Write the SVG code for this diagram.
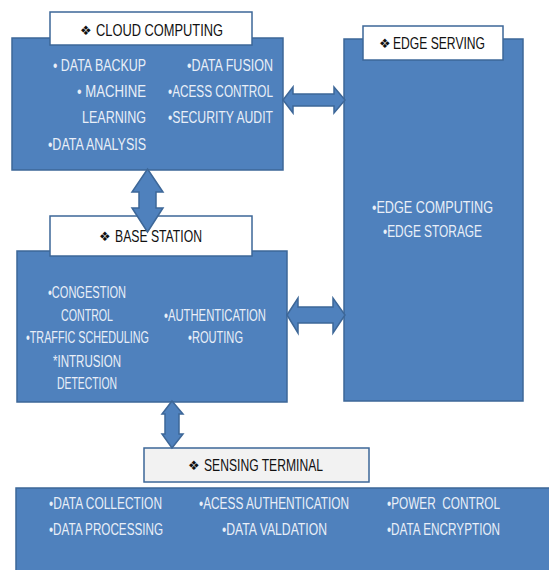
<svg xmlns="http://www.w3.org/2000/svg" width="549" height="570" viewBox="0 0 549 570">
<style>
.box{fill:#4f81bd;stroke:#3d6798;stroke-width:1.5}
.hdr{fill:#ffffff;stroke:#3d6798;stroke-width:1.5}
.hdr2{fill:#f2f2f2;stroke:#3d6798;stroke-width:1.5}
.arr{fill:#4f81bd;stroke:#3d6798;stroke-width:1.5;stroke-linejoin:miter}
.t{font-family:"Liberation Sans Narrow","Liberation Sans",Arial,sans-serif;font-size:16px;fill:#e9eff8;white-space:pre}
.h{font-family:"Liberation Sans Narrow","Liberation Sans",Arial,sans-serif;font-size:17px;fill:#111111}
.d{font-family:"DejaVu Sans",sans-serif;font-size:13px;fill:#111111}
</style>
<rect width="549" height="570" fill="#ffffff"/>
<g id="cloud">
<rect class="box" x="12" y="38" width="271" height="132"/>
<rect class="hdr" x="50" y="12" width="202" height="33"/>
<text y="36"><tspan class="d" x="80" y="35">❖</tspan><tspan class="h" x="96" y="36" textLength="127" lengthAdjust="spacingAndGlyphs">CLOUD COMPUTING</tspan></text>
<text class="t" x="53" y="71" textLength="93" lengthAdjust="spacingAndGlyphs">• DATA BACKUP</text>
<text class="t" x="77" y="97" textLength="69" lengthAdjust="spacingAndGlyphs">• MACHINE</text>
<text class="t" x="82" y="123" textLength="64" lengthAdjust="spacingAndGlyphs">LEARNING</text>
<text class="t" x="48" y="150" textLength="98" lengthAdjust="spacingAndGlyphs">•DATA ANALYSIS</text>
<text class="t" x="187" y="71" textLength="86" lengthAdjust="spacingAndGlyphs">•DATA FUSION</text>
<text class="t" x="168" y="97" textLength="105" lengthAdjust="spacingAndGlyphs">•ACESS CONTROL</text>
<text class="t" x="168" y="123" textLength="105" lengthAdjust="spacingAndGlyphs">•SECURITY AUDIT</text>
</g>
<g id="edge">
<rect class="box" x="344" y="39" width="179" height="362"/>
<rect class="hdr" x="363" y="26" width="140" height="34"/>
<text y="49"><tspan class="d" x="379" y="48">❖</tspan><tspan class="h" x="393" y="49" textLength="92" lengthAdjust="spacingAndGlyphs">EDGE SERVING</tspan></text>
<text class="t" x="372" y="213" textLength="121" lengthAdjust="spacingAndGlyphs">•EDGE COMPUTING</text>
<text class="t" x="383" y="237" textLength="99" lengthAdjust="spacingAndGlyphs">•EDGE STORAGE</text>
</g>
<g id="base">
<rect class="box" x="17" y="251" width="270" height="151"/>
<rect class="hdr" x="50" y="216" width="202" height="40"/>
<text y="242"><tspan class="d" x="99" y="241">❖</tspan><tspan class="h" x="115" y="242" textLength="87" lengthAdjust="spacingAndGlyphs">BASE STATION</tspan></text>
<text class="t" x="48" y="298" textLength="78" lengthAdjust="spacingAndGlyphs">•CONGESTION</text>
<text class="t" x="61" y="321" textLength="52" lengthAdjust="spacingAndGlyphs">CONTROL</text>
<text class="t" x="26" y="343" textLength="123" lengthAdjust="spacingAndGlyphs">•TRAFFIC SCHEDULING</text>
<text class="t" x="53" y="367" textLength="68" lengthAdjust="spacingAndGlyphs">*INTRUSION</text>
<text class="t" x="57" y="389" textLength="60" lengthAdjust="spacingAndGlyphs">DETECTION</text>
<text class="t" x="164" y="321" textLength="102" lengthAdjust="spacingAndGlyphs">•AUTHENTICATION</text>
<text class="t" x="188" y="343" textLength="55" lengthAdjust="spacingAndGlyphs">•ROUTING</text>
</g>
<g id="sensing">
<rect class="box" x="16" y="488" width="540" height="90"/>
<rect class="hdr2" x="144" y="448" width="225" height="34"/>
<text y="471"><tspan class="d" x="188" y="470">❖</tspan><tspan class="h" x="204" y="471" textLength="119" lengthAdjust="spacingAndGlyphs">SENSING TERMINAL</tspan></text>
<text class="t" x="49" y="509" textLength="113" lengthAdjust="spacingAndGlyphs">•DATA COLLECTION</text>
<text class="t" x="49" y="535" textLength="114" lengthAdjust="spacingAndGlyphs">•DATA PROCESSING</text>
<text class="t" x="199" y="509" textLength="150" lengthAdjust="spacingAndGlyphs">•ACESS AUTHENTICATION</text>
<text class="t" x="222" y="535" textLength="105" lengthAdjust="spacingAndGlyphs">•DATA VALDATION</text>
<text class="t" x="387" y="509" textLength="113" lengthAdjust="spacingAndGlyphs">•POWER  CONTROL</text>
<text class="t" x="387" y="535" textLength="113" lengthAdjust="spacingAndGlyphs">•DATA ENCRYPTION</text>
</g>
<g id="connectors">
<path class="arr" d="M147.5,169 L163,192 L156,192 L156,208 L163,208 L147.5,232 L132,208 L139,208 L139,192 L132,192 Z"/>
<path class="arr" d="M283,100 L293,87 L293,94 L334,94 L334,87 L345,100 L334,113 L334,106 L293,106 L293,113 Z"/>
<path class="arr" d="M287,315 L298,298 L298,307 L333,307 L333,298 L345,315 L333,333 L333,323 L298,323 L298,333 Z"/>
<path class="arr" d="M172,401 L183,414 L179,414 L179,434 L183,434 L172,448 L162,434 L165,434 L165,414 L162,414 Z"/>
</g>
</svg>
